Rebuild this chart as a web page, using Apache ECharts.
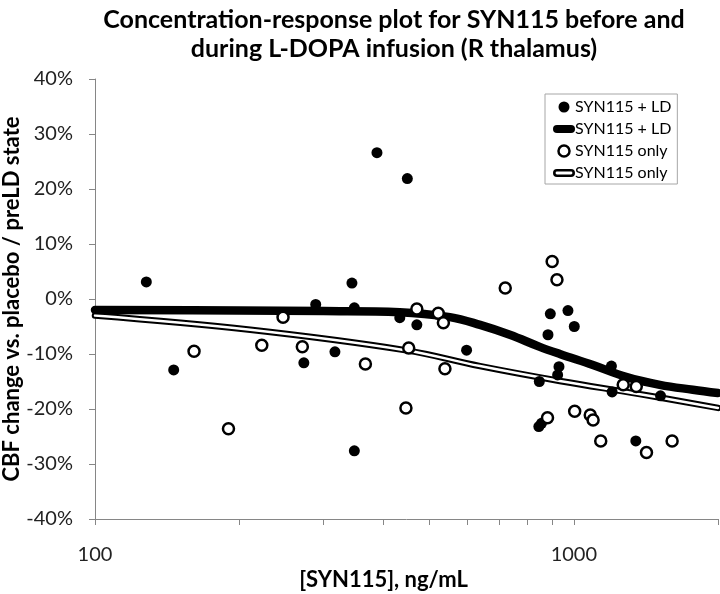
<!DOCTYPE html>
<html>
<head>
<meta charset="utf-8">
<script src="https://cdn.jsdelivr.net/npm/echarts@6/dist/echarts.min.js"></script>
<style>
html,body{margin:0;padding:0;background:#fff;}
#chart{width:720px;height:594px;}
</style>
</head>
<body>
<div id="chart"></div>
<script>
// ---- data ----
var titleText = 'Concentration-response plot for SYN115 before and\nduring L-DOPA infusion (R thalamus)';
var xAxisName = '[SYN115], ng/mL';
var yAxisName = 'CBF change vs. placebo / preLD state';
var xTickValues = [100, 200, 300, 400, 500, 600, 700, 800, 900, 1000, 2000];
var xLabelValues = [100, 1000];

// SYN115 + LD (filled circles): concentration, % change
var ldConc = [128, 146, 273, 289, 317, 344, 348, 348, 388, 433, 449, 470, 597, 847, 845, 856, 883, 893, 925, 931, 972, 1002, 1198, 1202, 1347, 1517];
var ldResp = [3.1, -12.9, -11.6, -1.0, -9.6, 2.9, -1.6, -27.6, 26.6, -3.4, 21.9, -4.7, -9.3, -15.0, -23.2, -22.6, -6.5, -2.7, -13.8, -12.3, -2.1, -5.0, -12.2, -16.9, -25.8, -17.6];

// SYN115 only (open circles)
var onlyConc = [161, 190, 223, 247, 271, 367, 446, 452, 470, 521, 534, 538, 719, 881, 901, 922, 1004, 1082, 1097, 1138, 1268, 1350, 1418, 1604];
var onlyResp = [-9.5, -23.6, -8.4, -3.3, -8.7, -11.8, -19.8, -8.9, -1.8, -2.6, -4.3, -12.7, 2.0, -21.6, 6.8, 3.5, -20.4, -21.1, -22.0, -25.8, -15.6, -15.9, -27.9, -25.8];

// fitted curve SYN115 + LD (thick line), read at points along the curve
var fitLdConc = [100, 200, 300, 433, 551, 637, 735, 849, 935, 1096, 1290, 1512, 1772, 2000];
var fitLdResp = [-2.0, -2.1, -2.2, -2.4, -3.3, -4.7, -6.5, -8.7, -10.0, -12.0, -14.2, -15.6, -16.5, -17.1];

// fitted curve SYN115 only (double line)
var fitOnlyConc = [100, 211, 444, 637, 935, 1374, 2000];
var fitOnlyResp = [-3.0, -5.6, -9.3, -12.2, -14.9, -17.3, -19.8];

var legendLabels = {
  ldPts: 'SYN115 + LD',
  ldFit: 'SYN115 + LD',
  onlyPts: 'SYN115 only',
  onlyFit: 'SYN115 only'
};

function pairs(xs, ys) { return xs.map(function (x, i) { return [x, ys[i]]; }); }

var chart = echarts.init(document.getElementById('chart'), null, {renderer: 'canvas'});
var FONT = 'Lato';

var thickIcon = 'path://M4,0 L18,0 A4,4 0 0 1 18,8 L4,8 A4,4 0 0 1 4,0 Z';
var doubleIcon = 'path://M4,0 L18,0 A4,4 0 0 1 18,8 L4,8 A4,4 0 0 1 4,0 Z M4,2.6 A1.4,1.4 0 0 0 4,5.4 L18,5.4 A1.4,1.4 0 0 0 18,2.6 Z';

var option = {
  backgroundColor: '#fff',
  animation: false,
  title: {
    text: titleText,
    left: 389,
    top: 0,
    textAlign: 'center',
    textStyle: {fontFamily: FONT, fontWeight: 'bold', fontSize: 25, lineHeight: 29, color: '#000'}
  },
  grid: {left: 95, top: 79, right: 2, bottom: 75, containLabel: false, outerBoundsMode: 'none'},
  legend: {
    orient: 'vertical',
    left: 545,
    top: 94,
    width: 135,
    padding: [5, 6, 3, 8],
    itemGap: 6,
    itemWidth: 22,
    itemHeight: 11,
    borderColor: '#a6a6a6',
    borderWidth: 1,
    backgroundColor: '#fff',
    textStyle: {fontFamily: FONT, fontSize: 16, color: '#000', padding: [0, 0, 0, -5]},
    formatter: function (name) { return legendLabels[name]; },
    data: [
      {name: 'ldPts', icon: 'circle', itemStyle: {color: '#000'}},
      {name: 'ldFit', icon: thickIcon, itemStyle: {color: '#000'}},
      {name: 'onlyPts', icon: 'circle', itemStyle: {color: '#fff', borderColor: '#000', borderWidth: 2.5}},
      {name: 'onlyFit', icon: doubleIcon, itemStyle: {color: '#000'}}
    ],
    selectedMode: false
  },
  xAxis: {
    type: 'log',
    logBase: 10,
    min: 100,
    max: 2000,
    name: xAxisName,
    nameLocation: 'middle',
    nameGap: 50,
    nameMoveOverlap: false,
    nameTextStyle: {fontFamily: FONT, fontWeight: 'bold', fontSize: 22, color: '#000', padding: [0, 46, 0, 0]},
    axisLine: {show: true, onZero: false, lineStyle: {color: '#868686', width: 1}},
    axisTick: {show: true, length: 6, inside: false, customValues: xTickValues, lineStyle: {color: '#868686'}},
    axisLabel: {customValues: xLabelValues, margin: 26, fontFamily: FONT, fontSize: 20, color: '#222',
      formatter: function (v) { return String(v); }},
    splitLine: {show: false}
  },
  yAxis: {
    type: 'value',
    min: -40,
    max: 40,
    interval: 10,
    name: yAxisName,
    nameLocation: 'middle',
    nameGap: 72,
    nameMoveOverlap: false,
    nameTextStyle: {fontFamily: FONT, fontWeight: 'bold', fontSize: 22, color: '#000'},
    axisLine: {show: true, lineStyle: {color: '#868686', width: 1}},
    axisTick: {show: true, length: 6, lineStyle: {color: '#868686'}},
    axisLabel: {formatter: '{value}%', margin: 22, fontFamily: FONT, fontSize: 20, color: '#222'},
    splitLine: {show: false}
  },
  series: [
    {
      name: 'onlyFit', type: 'line', data: pairs(fitOnlyConc, fitOnlyResp), smooth: 0.4,
      symbol: 'none', lineStyle: {color: '#000', width: 6.5, cap: 'round'}, itemStyle: {color: '#000'}, z: 2
    },
    {
      name: 'onlyFitInner', type: 'line', data: pairs(fitOnlyConc, fitOnlyResp), smooth: 0.4,
      symbol: 'none', lineStyle: {color: '#fff', width: 2.5, cap: 'round'}, itemStyle: {color: '#fff'}, z: 3
    },
    {
      name: 'ldFit', type: 'line', data: pairs(fitLdConc, fitLdResp), smooth: 0.4,
      symbol: 'none', lineStyle: {color: '#000', width: 8.5, cap: 'round'}, itemStyle: {color: '#000'}, z: 4
    },
    {
      name: 'ldPts', type: 'scatter', data: pairs(ldConc, ldResp), symbol: 'circle', symbolSize: 11,
      itemStyle: {color: '#000', opacity: 1}, z: 5
    },
    {
      name: 'onlyPts', type: 'scatter', data: pairs(onlyConc, onlyResp), symbol: 'circle', symbolSize: 11,
      itemStyle: {color: '#fff', borderColor: '#000', borderWidth: 2.5, opacity: 1}, z: 6
    }
  ]
};
chart.setOption(option);
</script>
</body>
</html>
